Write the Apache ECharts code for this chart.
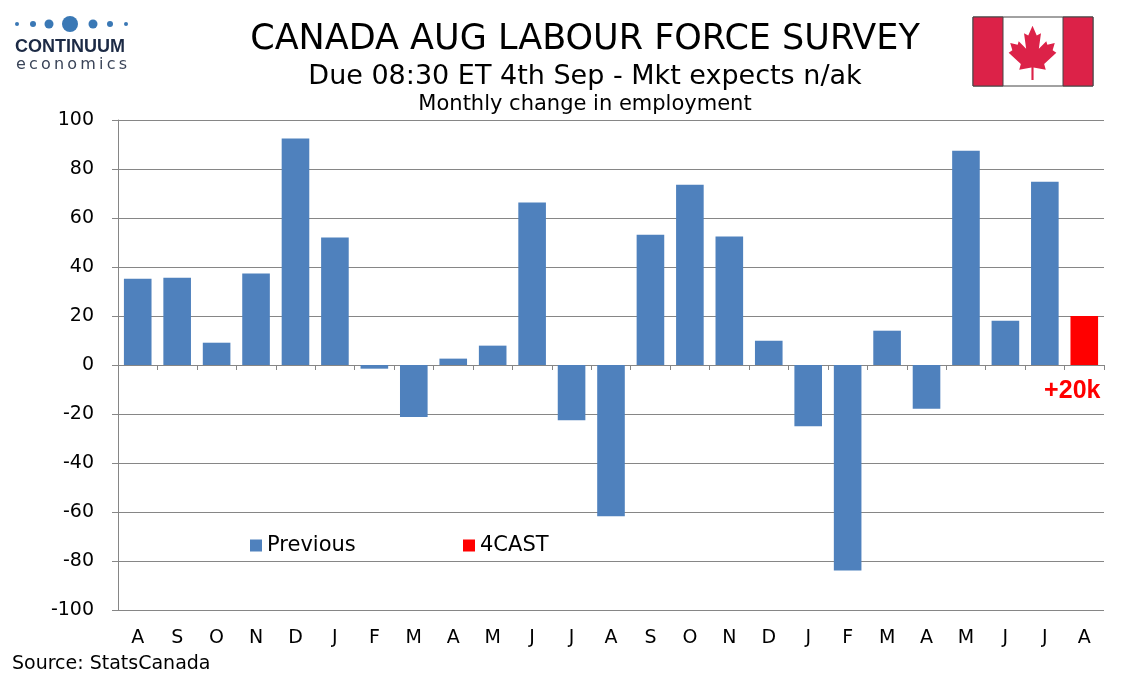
<!DOCTYPE html>
<html><head><meta charset="utf-8">
<script src="https://cdn.jsdelivr.net/npm/echarts@6/dist/echarts.min.js"></script>
<style>html,body{margin:0;padding:0;background:#fff}#c{width:1134px;height:680px}</style>
</head><body><div id="c"></div>
<script>
const categories = ['A','S','O','N','D','J','F','M','A','M','J','J','A','S','O','N','D','J','F','M','A','M','J','J','A'];
const previousValues = [35.2,35.6,9.1,37.3,92.4,52.0,-1.5,-21.2,2.6,7.9,66.3,-22.5,-61.7,53.2,73.6,52.4,9.9,-25.0,-83.9,14.0,-17.9,87.5,18.1,74.8,null];
const forecastValues = [null,null,null,null,null,null,null,null,null,null,null,null,null,null,null,null,null,null,null,null,null,null,null,null,20];
const yTicks = {min:-100, max:100, interval:20};
const FONT = 'DejaVu Sans';

const chart = echarts.init(document.getElementById('c'));

// maple leaf polygon (normalized 0..100)
const leafNorm = [[48,100],[48,78],[25,82],[28,72],[5,52],[12,48],[8,35],[22,38],[24,32],[38,45],[34,18],[42,22],[50,5],[58,22],[66,18],[62,45],[76,32],[78,38],[92,35],[88,48],[95,52],[72,72],[75,82],[52,78],[52,100]];
const lx=1006, ly=23, lw=53, lh=57;
const leafPts = leafNorm.map(p=>[lx+p[0]*lw/100, ly+p[1]*lh/100]);

const dots = [[17,2],[33,3],[49,4.5],[70,8],[93,4.5],[110,3],[126,2]];
const graphics = [];
dots.forEach(d=>graphics.push({type:'circle',shape:{cx:d[0],cy:24,r:d[1]},style:{fill:'#3a78b5'}}));
graphics.push({type:'text',x:15,y:47,style:{text:'CONTINUUM',font:'bold 18px "Liberation Sans", Arial',fill:'#1c2a45',textVerticalAlign:'middle'}});
graphics.push({type:'text',x:16,y:65,style:{text:'e\u2009c\u2009o\u2009n\u2009o\u2009m\u2009i\u2009c\u2009s',font:'16px "DejaVu Sans"',fill:'#3a4458',textVerticalAlign:'middle'}});
// flag
graphics.push({type:'rect',shape:{x:973,y:17,width:120,height:69},style:{fill:'#fff',stroke:'#444',lineWidth:1}});
graphics.push({type:'rect',shape:{x:973,y:17,width:30,height:69},style:{fill:'#dc2248',stroke:'#444',lineWidth:1}});
graphics.push({type:'rect',shape:{x:1063,y:17,width:30,height:69},style:{fill:'#dc2248',stroke:'#444',lineWidth:1}});
graphics.push({type:'polygon',shape:{points:leafPts},style:{fill:'#dc2248'}});
// titles
graphics.push({type:'text',x:585,y:40,style:{text:'CANADA AUG LABOUR FORCE SURVEY',font:'35px "DejaVu Sans"',fill:'#000',textAlign:'center',textVerticalAlign:'middle'}});
graphics.push({type:'text',x:585,y:77,style:{text:'Due 08:30 ET 4th Sep - Mkt expects n/ak',font:'27px "DejaVu Sans"',fill:'#000',textAlign:'center',textVerticalAlign:'middle'}});
graphics.push({type:'text',x:585,y:105,style:{text:'Monthly change in employment',font:'21px "DejaVu Sans"',fill:'#000',textAlign:'center',textVerticalAlign:'middle'}});
graphics.push({type:'text',x:12,y:664,style:{text:'Source: StatsCanada',font:'19px "DejaVu Sans"',fill:'#000',textVerticalAlign:'middle'}});

chart.setOption({
  animation:false,
  textStyle:{fontFamily:FONT},
  grid:{left:118,right:30,top:120,bottom:70,containLabel:false},
  legend:[
    {data:['Previous'],left:245,top:530,icon:'rect',itemWidth:12,itemHeight:12,itemGap:4,textStyle:{fontSize:21,color:'#000',fontFamily:FONT}},
    {data:['4CAST'],left:458,top:530,icon:'rect',itemWidth:12,itemHeight:12,itemGap:4,textStyle:{fontSize:21,color:'#000',fontFamily:FONT}}
  ],
  xAxis:[
    {type:'category',data:categories,position:'bottom',axisLine:{onZero:false,show:false},axisTick:{show:false},
     axisLabel:{fontSize:19,color:'#000',margin:19,fontFamily:FONT,interval:0}},
    {type:'category',data:categories,position:'bottom',axisLine:{onZero:true,lineStyle:{color:'#868686',width:1}},
     axisTick:{show:true,length:5,lineStyle:{color:'#868686'}},axisLabel:{show:false}}
  ],
  yAxis:{type:'value',min:yTicks.min,max:yTicks.max,interval:yTicks.interval,
    axisLine:{show:true,lineStyle:{color:'#868686'}},axisTick:{show:true,length:6,lineStyle:{color:'#868686'}},
    splitLine:{lineStyle:{color:'#868686',width:1}},
    axisLabel:{fontSize:19,color:'#000',margin:24,fontFamily:FONT}},
  series:[
    {name:'Previous',type:'bar',data:previousValues,itemStyle:{color:'#4f81bd'},barCategoryGap:'30%',barGap:'-100%'},
    {name:'4CAST',type:'bar',data:forecastValues,itemStyle:{color:'#ff0000'},barCategoryGap:'30%',barGap:'-100%',
     label:{show:true,position:'bottom',distance:14,offset:[-12,0],formatter:p=>'+'+p.value+'k',
       color:'#ff0000',fontWeight:'bold',fontSize:25,fontFamily:'"Liberation Sans", Arial'}}
  ],
  graphic:graphics
});
</script></body></html>
